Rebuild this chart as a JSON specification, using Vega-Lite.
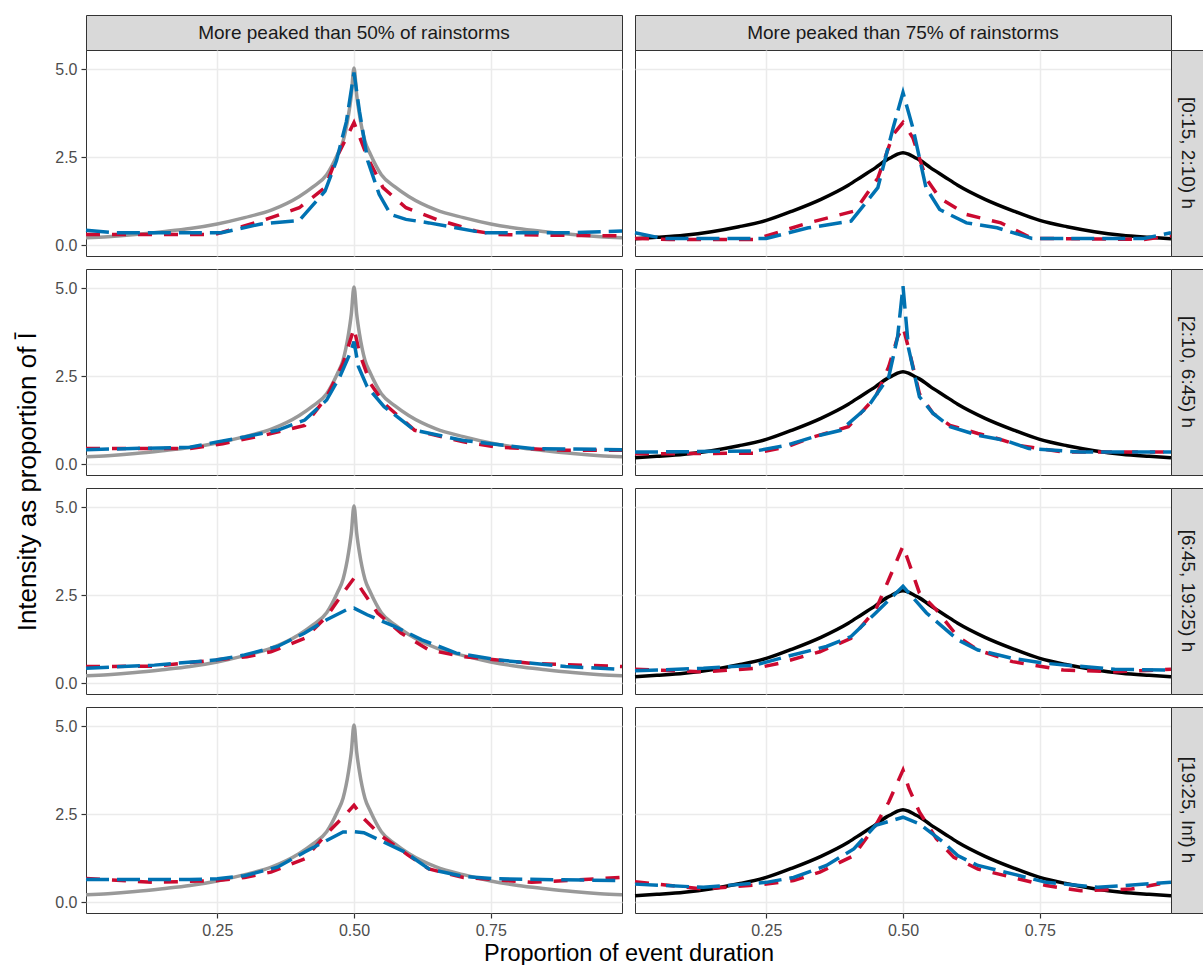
{
"$schema":"https://vega.github.io/schema/vega-lite/v6.json",
"autosize":{"type":"pad"},
"padding":{"left":14,"top":14,"right":0,"bottom":2},
"background":"white",
"config":{
 "font":"Liberation Sans",
 "view":{"stroke":"#333333","strokeWidth":1},
 "axis":{"domain":false,"gridColor":"#EBEBEB","gridWidth":1.5,"tickColor":"#333333","tickSize":5,"tickWidth":1.2,"labelColor":"#4D4D4D","labelFontSize":16,"labelPadding":4,"titleFontSize":23.5,"titleFontWeight":"normal","titleColor":"#000000","titlePadding":3}
},
"datasets":{
 "gray":[
  {"x":0.01,"y":0.21},{"x":0.05,"y":0.24},{"x":0.1,"y":0.3},{"x":0.15,"y":0.38},{"x":0.2,"y":0.47},{"x":0.25,"y":0.6},{"x":0.3,"y":0.78},{"x":0.35,"y":1.0},{"x":0.4,"y":1.38},{"x":0.425,"y":1.65},{"x":0.45,"y":2.0},{"x":0.47,"y":2.58},{"x":0.48,"y":2.95},{"x":0.49,"y":3.7},{"x":0.495,"y":4.25},{"x":0.5,"y":5.03},{"x":0.505,"y":4.25},{"x":0.51,"y":3.7},{"x":0.52,"y":2.95},{"x":0.53,"y":2.58},{"x":0.55,"y":2.0},{"x":0.575,"y":1.65},{"x":0.6,"y":1.38},{"x":0.65,"y":1.0},{"x":0.7,"y":0.78},{"x":0.75,"y":0.6},{"x":0.8,"y":0.47},{"x":0.85,"y":0.38},{"x":0.9,"y":0.3},{"x":0.95,"y":0.24},{"x":0.99,"y":0.21}
 ],
 "black":[
  {"x":0.01,"y":0.18},{"x":0.05,"y":0.22},{"x":0.1,"y":0.28},{"x":0.15,"y":0.38},{"x":0.2,"y":0.52},{"x":0.25,"y":0.7},{"x":0.3,"y":0.98},{"x":0.35,"y":1.3},{"x":0.4,"y":1.7},{"x":0.425,"y":1.95},{"x":0.45,"y":2.2},{"x":0.47,"y":2.42},{"x":0.48,"y":2.5},{"x":0.49,"y":2.58},{"x":0.5,"y":2.62},{"x":0.51,"y":2.58},{"x":0.52,"y":2.5},{"x":0.53,"y":2.42},{"x":0.55,"y":2.2},{"x":0.575,"y":1.95},{"x":0.6,"y":1.7},{"x":0.65,"y":1.3},{"x":0.7,"y":0.98},{"x":0.75,"y":0.7},{"x":0.8,"y":0.52},{"x":0.85,"y":0.38},{"x":0.9,"y":0.28},{"x":0.95,"y":0.22},{"x":0.99,"y":0.18}
 ],
 "obs":[
  {"c":"50","r":1,"s":"b","x":0.01,"y":0.42},{"c":"50","r":1,"s":"b","x":0.06,"y":0.35},{"c":"50","r":1,"s":"b","x":0.258,"y":0.35},{"c":"50","r":1,"s":"b","x":0.33,"y":0.6},{"c":"50","r":1,"s":"b","x":0.4,"y":0.7},{"c":"50","r":1,"s":"b","x":0.447,"y":1.53},{"c":"50","r":1,"s":"b","x":0.468,"y":2.4},{"c":"50","r":1,"s":"b","x":0.486,"y":3.5},{"c":"50","r":1,"s":"b","x":0.5,"y":4.9},{"c":"50","r":1,"s":"b","x":0.51,"y":3.8},{"c":"50","r":1,"s":"b","x":0.525,"y":2.4},{"c":"50","r":1,"s":"b","x":0.546,"y":1.44},{"c":"50","r":1,"s":"b","x":0.567,"y":0.87},{"c":"50","r":1,"s":"b","x":0.595,"y":0.73},{"c":"50","r":1,"s":"b","x":0.637,"y":0.63},{"c":"50","r":1,"s":"b","x":0.736,"y":0.35},{"c":"50","r":1,"s":"b","x":0.9,"y":0.35},{"c":"50","r":1,"s":"b","x":0.99,"y":0.4},
  {"c":"50","r":1,"s":"r","x":0.01,"y":0.3},{"c":"50","r":1,"s":"r","x":0.245,"y":0.3},{"c":"50","r":1,"s":"r","x":0.33,"y":0.68},{"c":"50","r":1,"s":"r","x":0.4,"y":1.06},{"c":"50","r":1,"s":"r","x":0.447,"y":1.63},{"c":"50","r":1,"s":"r","x":0.468,"y":2.48},{"c":"50","r":1,"s":"r","x":0.5,"y":3.48},{"c":"50","r":1,"s":"r","x":0.525,"y":2.48},{"c":"50","r":1,"s":"r","x":0.553,"y":1.63},{"c":"50","r":1,"s":"r","x":0.595,"y":1.06},{"c":"50","r":1,"s":"r","x":0.651,"y":0.73},{"c":"50","r":1,"s":"r","x":0.722,"y":0.4},{"c":"50","r":1,"s":"r","x":0.76,"y":0.3},{"c":"50","r":1,"s":"r","x":0.99,"y":0.26},
  {"c":"75","r":1,"s":"b","x":0.01,"y":0.35},{"c":"75","r":1,"s":"b","x":0.06,"y":0.19},{"c":"75","r":1,"s":"b","x":0.25,"y":0.19},{"c":"75","r":1,"s":"b","x":0.327,"y":0.49},{"c":"75","r":1,"s":"b","x":0.405,"y":0.68},{"c":"75","r":1,"s":"b","x":0.454,"y":1.63},{"c":"75","r":1,"s":"b","x":0.482,"y":3.33},{"c":"75","r":1,"s":"b","x":0.5,"y":4.33},{"c":"75","r":1,"s":"b","x":0.518,"y":3.33},{"c":"75","r":1,"s":"b","x":0.542,"y":1.63},{"c":"75","r":1,"s":"b","x":0.567,"y":1.01},{"c":"75","r":1,"s":"b","x":0.616,"y":0.63},{"c":"75","r":1,"s":"b","x":0.672,"y":0.49},{"c":"75","r":1,"s":"b","x":0.736,"y":0.19},{"c":"75","r":1,"s":"b","x":0.94,"y":0.19},{"c":"75","r":1,"s":"b","x":0.99,"y":0.35},
  {"c":"75","r":1,"s":"r","x":0.01,"y":0.19},{"c":"75","r":1,"s":"r","x":0.074,"y":0.16},{"c":"75","r":1,"s":"r","x":0.229,"y":0.16},{"c":"75","r":1,"s":"r","x":0.327,"y":0.63},{"c":"75","r":1,"s":"r","x":0.412,"y":0.97},{"c":"75","r":1,"s":"r","x":0.454,"y":1.9},{"c":"75","r":1,"s":"r","x":0.482,"y":3.14},{"c":"75","r":1,"s":"r","x":0.5,"y":3.48},{"c":"75","r":1,"s":"r","x":0.518,"y":3.05},{"c":"75","r":1,"s":"r","x":0.542,"y":1.9},{"c":"75","r":1,"s":"r","x":0.567,"y":1.34},{"c":"75","r":1,"s":"r","x":0.616,"y":0.87},{"c":"75","r":1,"s":"r","x":0.679,"y":0.63},{"c":"75","r":1,"s":"r","x":0.736,"y":0.19},{"c":"75","r":1,"s":"r","x":0.94,"y":0.16},{"c":"75","r":1,"s":"r","x":0.99,"y":0.26},
  {"c":"50","r":2,"s":"b","x":0.01,"y":0.41},{"c":"50","r":2,"s":"b","x":0.2,"y":0.48},{"c":"50","r":2,"s":"b","x":0.25,"y":0.63},{"c":"50","r":2,"s":"b","x":0.3,"y":0.77},{"c":"50","r":2,"s":"b","x":0.36,"y":0.96},{"c":"50","r":2,"s":"b","x":0.41,"y":1.25},{"c":"50","r":2,"s":"b","x":0.45,"y":1.82},{"c":"50","r":2,"s":"b","x":0.474,"y":2.48},{"c":"50","r":2,"s":"b","x":0.493,"y":3.15},{"c":"50","r":2,"s":"b","x":0.5,"y":3.48},{"c":"50","r":2,"s":"b","x":0.508,"y":2.77},{"c":"50","r":2,"s":"b","x":0.524,"y":2.2},{"c":"50","r":2,"s":"b","x":0.555,"y":1.63},{"c":"50","r":2,"s":"b","x":0.611,"y":0.96},{"c":"50","r":2,"s":"b","x":0.7,"y":0.67},{"c":"50","r":2,"s":"b","x":0.825,"y":0.44},{"c":"50","r":2,"s":"b","x":0.99,"y":0.41},
  {"c":"50","r":2,"s":"r","x":0.01,"y":0.44},{"c":"50","r":2,"s":"r","x":0.2,"y":0.44},{"c":"50","r":2,"s":"r","x":0.26,"y":0.58},{"c":"50","r":2,"s":"r","x":0.336,"y":0.82},{"c":"50","r":2,"s":"r","x":0.41,"y":1.1},{"c":"50","r":2,"s":"r","x":0.45,"y":1.91},{"c":"50","r":2,"s":"r","x":0.48,"y":2.86},{"c":"50","r":2,"s":"r","x":0.5,"y":3.86},{"c":"50","r":2,"s":"r","x":0.51,"y":3.15},{"c":"50","r":2,"s":"r","x":0.53,"y":2.29},{"c":"50","r":2,"s":"r","x":0.555,"y":1.72},{"c":"50","r":2,"s":"r","x":0.611,"y":0.96},{"c":"50","r":2,"s":"r","x":0.7,"y":0.63},{"c":"50","r":2,"s":"r","x":0.762,"y":0.48},{"c":"50","r":2,"s":"r","x":0.887,"y":0.39},{"c":"50","r":2,"s":"r","x":0.99,"y":0.39},
  {"c":"75","r":2,"s":"b","x":0.01,"y":0.34},{"c":"75","r":2,"s":"b","x":0.23,"y":0.37},{"c":"75","r":2,"s":"b","x":0.286,"y":0.53},{"c":"75","r":2,"s":"b","x":0.336,"y":0.77},{"c":"75","r":2,"s":"b","x":0.386,"y":0.96},{"c":"75","r":2,"s":"b","x":0.436,"y":1.63},{"c":"75","r":2,"s":"b","x":0.474,"y":2.48},{"c":"75","r":2,"s":"b","x":0.49,"y":3.6},{"c":"75","r":2,"s":"b","x":0.5,"y":5.05},{"c":"75","r":2,"s":"b","x":0.51,"y":3.3},{"c":"75","r":2,"s":"b","x":0.53,"y":1.91},{"c":"75","r":2,"s":"b","x":0.555,"y":1.44},{"c":"75","r":2,"s":"b","x":0.586,"y":1.06},{"c":"75","r":2,"s":"b","x":0.637,"y":0.82},{"c":"75","r":2,"s":"b","x":0.687,"y":0.67},{"c":"75","r":2,"s":"b","x":0.73,"y":0.44},{"c":"75","r":2,"s":"b","x":0.825,"y":0.34},{"c":"75","r":2,"s":"b","x":0.99,"y":0.34},
  {"c":"75","r":2,"s":"r","x":0.01,"y":0.29},{"c":"75","r":2,"s":"r","x":0.23,"y":0.31},{"c":"75","r":2,"s":"r","x":0.286,"y":0.48},{"c":"75","r":2,"s":"r","x":0.336,"y":0.77},{"c":"75","r":2,"s":"r","x":0.4,"y":1.06},{"c":"75","r":2,"s":"r","x":0.45,"y":1.91},{"c":"75","r":2,"s":"r","x":0.474,"y":2.77},{"c":"75","r":2,"s":"r","x":0.49,"y":3.6},{"c":"75","r":2,"s":"r","x":0.5,"y":3.9},{"c":"75","r":2,"s":"r","x":0.511,"y":3.24},{"c":"75","r":2,"s":"r","x":0.53,"y":2.0},{"c":"75","r":2,"s":"r","x":0.555,"y":1.44},{"c":"75","r":2,"s":"r","x":0.586,"y":1.1},{"c":"75","r":2,"s":"r","x":0.637,"y":0.87},{"c":"75","r":2,"s":"r","x":0.674,"y":0.72},{"c":"75","r":2,"s":"r","x":0.712,"y":0.53},{"c":"75","r":2,"s":"r","x":0.793,"y":0.34},{"c":"75","r":2,"s":"r","x":0.99,"y":0.34},
  {"c":"50","r":3,"s":"b","x":0.01,"y":0.42},{"c":"50","r":3,"s":"b","x":0.135,"y":0.51},{"c":"50","r":3,"s":"b","x":0.25,"y":0.66},{"c":"50","r":3,"s":"b","x":0.3,"y":0.8},{"c":"50","r":3,"s":"b","x":0.36,"y":1.04},{"c":"50","r":3,"s":"b","x":0.41,"y":1.42},{"c":"50","r":3,"s":"b","x":0.45,"y":1.8},{"c":"50","r":3,"s":"b","x":0.486,"y":2.08},{"c":"50","r":3,"s":"b","x":0.5,"y":2.13},{"c":"50","r":3,"s":"b","x":0.524,"y":1.94},{"c":"50","r":3,"s":"b","x":0.574,"y":1.61},{"c":"50","r":3,"s":"b","x":0.624,"y":1.23},{"c":"50","r":3,"s":"b","x":0.687,"y":0.85},{"c":"50","r":3,"s":"b","x":0.762,"y":0.66},{"c":"50","r":3,"s":"b","x":0.887,"y":0.47},{"c":"50","r":3,"s":"b","x":0.99,"y":0.39},
  {"c":"50","r":3,"s":"r","x":0.01,"y":0.47},{"c":"50","r":3,"s":"r","x":0.135,"y":0.48},{"c":"50","r":3,"s":"r","x":0.25,"y":0.66},{"c":"50","r":3,"s":"r","x":0.304,"y":0.75},{"c":"50","r":3,"s":"r","x":0.348,"y":0.89},{"c":"50","r":3,"s":"r","x":0.41,"y":1.27},{"c":"50","r":3,"s":"r","x":0.45,"y":1.89},{"c":"50","r":3,"s":"r","x":0.48,"y":2.56},{"c":"50","r":3,"s":"r","x":0.5,"y":2.98},{"c":"50","r":3,"s":"r","x":0.518,"y":2.56},{"c":"50","r":3,"s":"r","x":0.543,"y":1.99},{"c":"50","r":3,"s":"r","x":0.586,"y":1.42},{"c":"50","r":3,"s":"r","x":0.637,"y":0.94},{"c":"50","r":3,"s":"r","x":0.7,"y":0.75},{"c":"50","r":3,"s":"r","x":0.825,"y":0.56},{"c":"50","r":3,"s":"r","x":0.99,"y":0.47},
  {"c":"75","r":3,"s":"b","x":0.01,"y":0.35},{"c":"75","r":3,"s":"b","x":0.135,"y":0.42},{"c":"75","r":3,"s":"b","x":0.23,"y":0.51},{"c":"75","r":3,"s":"b","x":0.286,"y":0.75},{"c":"75","r":3,"s":"b","x":0.36,"y":1.04},{"c":"75","r":3,"s":"b","x":0.405,"y":1.32},{"c":"75","r":3,"s":"b","x":0.45,"y":1.99},{"c":"75","r":3,"s":"b","x":0.5,"y":2.75},{"c":"75","r":3,"s":"b","x":0.543,"y":1.99},{"c":"75","r":3,"s":"b","x":0.6,"y":1.23},{"c":"75","r":3,"s":"b","x":0.637,"y":0.94},{"c":"75","r":3,"s":"b","x":0.7,"y":0.7},{"c":"75","r":3,"s":"b","x":0.762,"y":0.56},{"c":"75","r":3,"s":"b","x":0.887,"y":0.39},{"c":"75","r":3,"s":"b","x":0.99,"y":0.37},
  {"c":"75","r":3,"s":"r","x":0.01,"y":0.39},{"c":"75","r":3,"s":"r","x":0.135,"y":0.32},{"c":"75","r":3,"s":"r","x":0.23,"y":0.42},{"c":"75","r":3,"s":"r","x":0.273,"y":0.56},{"c":"75","r":3,"s":"r","x":0.348,"y":0.89},{"c":"75","r":3,"s":"r","x":0.405,"y":1.27},{"c":"75","r":3,"s":"r","x":0.45,"y":2.08},{"c":"75","r":3,"s":"r","x":0.474,"y":2.94},{"c":"75","r":3,"s":"r","x":0.5,"y":3.89},{"c":"75","r":3,"s":"r","x":0.511,"y":3.41},{"c":"75","r":3,"s":"r","x":0.53,"y":2.56},{"c":"75","r":3,"s":"r","x":0.561,"y":2.08},{"c":"75","r":3,"s":"r","x":0.6,"y":1.32},{"c":"75","r":3,"s":"r","x":0.637,"y":0.94},{"c":"75","r":3,"s":"r","x":0.7,"y":0.61},{"c":"75","r":3,"s":"r","x":0.793,"y":0.37},{"c":"75","r":3,"s":"r","x":0.887,"y":0.32},{"c":"75","r":3,"s":"r","x":0.99,"y":0.39},
  {"c":"50","r":4,"s":"b","x":0.01,"y":0.64},{"c":"50","r":4,"s":"b","x":0.2,"y":0.64},{"c":"50","r":4,"s":"b","x":0.25,"y":0.66},{"c":"50","r":4,"s":"b","x":0.3,"y":0.75},{"c":"50","r":4,"s":"b","x":0.36,"y":0.99},{"c":"50","r":4,"s":"b","x":0.41,"y":1.42},{"c":"50","r":4,"s":"b","x":0.45,"y":1.75},{"c":"50","r":4,"s":"b","x":0.48,"y":1.99},{"c":"50","r":4,"s":"b","x":0.5,"y":2.0},{"c":"50","r":4,"s":"b","x":0.518,"y":1.97},{"c":"50","r":4,"s":"b","x":0.555,"y":1.7},{"c":"50","r":4,"s":"b","x":0.593,"y":1.42},{"c":"50","r":4,"s":"b","x":0.637,"y":0.94},{"c":"50","r":4,"s":"b","x":0.7,"y":0.73},{"c":"50","r":4,"s":"b","x":0.762,"y":0.66},{"c":"50","r":4,"s":"b","x":0.99,"y":0.61},
  {"c":"50","r":4,"s":"r","x":0.01,"y":0.67},{"c":"50","r":4,"s":"r","x":0.135,"y":0.56},{"c":"50","r":4,"s":"r","x":0.25,"y":0.61},{"c":"50","r":4,"s":"r","x":0.3,"y":0.7},{"c":"50","r":4,"s":"r","x":0.348,"y":0.85},{"c":"50","r":4,"s":"r","x":0.41,"y":1.23},{"c":"50","r":4,"s":"r","x":0.45,"y":1.94},{"c":"50","r":4,"s":"r","x":0.48,"y":2.41},{"c":"50","r":4,"s":"r","x":0.5,"y":2.75},{"c":"50","r":4,"s":"r","x":0.518,"y":2.37},{"c":"50","r":4,"s":"r","x":0.549,"y":1.89},{"c":"50","r":4,"s":"r","x":0.6,"y":1.32},{"c":"50","r":4,"s":"r","x":0.637,"y":0.94},{"c":"50","r":4,"s":"r","x":0.7,"y":0.7},{"c":"50","r":4,"s":"r","x":0.825,"y":0.56},{"c":"50","r":4,"s":"r","x":0.99,"y":0.7},
  {"c":"75","r":4,"s":"b","x":0.01,"y":0.51},{"c":"75","r":4,"s":"b","x":0.135,"y":0.42},{"c":"75","r":4,"s":"b","x":0.25,"y":0.56},{"c":"75","r":4,"s":"b","x":0.3,"y":0.7},{"c":"75","r":4,"s":"b","x":0.36,"y":1.04},{"c":"75","r":4,"s":"b","x":0.41,"y":1.51},{"c":"75","r":4,"s":"b","x":0.45,"y":2.18},{"c":"75","r":4,"s":"b","x":0.5,"y":2.41},{"c":"75","r":4,"s":"b","x":0.53,"y":2.22},{"c":"75","r":4,"s":"b","x":0.574,"y":1.7},{"c":"75","r":4,"s":"b","x":0.6,"y":1.32},{"c":"75","r":4,"s":"b","x":0.637,"y":1.04},{"c":"75","r":4,"s":"b","x":0.7,"y":0.8},{"c":"75","r":4,"s":"b","x":0.762,"y":0.56},{"c":"75","r":4,"s":"b","x":0.856,"y":0.42},{"c":"75","r":4,"s":"b","x":0.99,"y":0.56},
  {"c":"75","r":4,"s":"r","x":0.01,"y":0.58},{"c":"75","r":4,"s":"r","x":0.135,"y":0.37},{"c":"75","r":4,"s":"r","x":0.25,"y":0.51},{"c":"75","r":4,"s":"r","x":0.3,"y":0.61},{"c":"75","r":4,"s":"r","x":0.348,"y":0.85},{"c":"75","r":4,"s":"r","x":0.41,"y":1.32},{"c":"75","r":4,"s":"r","x":0.45,"y":2.18},{"c":"75","r":4,"s":"r","x":0.474,"y":2.84},{"c":"75","r":4,"s":"r","x":0.5,"y":3.75},{"c":"75","r":4,"s":"r","x":0.511,"y":3.22},{"c":"75","r":4,"s":"r","x":0.53,"y":2.56},{"c":"75","r":4,"s":"r","x":0.561,"y":1.8},{"c":"75","r":4,"s":"r","x":0.593,"y":1.27},{"c":"75","r":4,"s":"r","x":0.637,"y":0.94},{"c":"75","r":4,"s":"r","x":0.7,"y":0.7},{"c":"75","r":4,"s":"r","x":0.762,"y":0.47},{"c":"75","r":4,"s":"r","x":0.825,"y":0.32},{"c":"75","r":4,"s":"r","x":0.918,"y":0.37},{"c":"75","r":4,"s":"r","x":0.99,"y":0.58}
 ]
},
"columns":4,
"bounds":"flush",
"align":"each",
"spacing":0,
"concat":[
 {"width":536,"height":35,"view":{"fill":"#D9D9D9","stroke":"#333333"},"data":{"values":[{"t":"More peaked than 50% of rainstorms"}]},"mark":{"type":"text","fontSize":19,"color":"#1A1A1A"},"encoding":{"text":{"field":"t"}}},
 {"width":13,"height":1,"view":{"stroke":null},"data":{"values":[]},"mark":"point","encoding":{}},
 {"width":536,"height":35,"view":{"fill":"#D9D9D9","stroke":"#333333"},"data":{"values":[{"t":"More peaked than 75% of rainstorms"}]},"mark":{"type":"text","fontSize":19,"color":"#1A1A1A"},"encoding":{"text":{"field":"t"}}},
 {"width":1,"height":1,"view":{"stroke":null},"data":{"values":[]},"mark":"point","encoding":{}},

 {"width":536,"height":206,
  "encoding":{"x":{"field":"x","type":"quantitative","scale":{"domain":[0.01,0.99],"nice":false,"zero":false},"axis":{"values":[0.25,0.5,0.75],"labels":false,"ticks":false,"title":null}},
              "y":{"field":"y","type":"quantitative","scale":{"domain":[-0.31,5.54],"nice":false,"zero":false},"axis":{"values":[0,2.5,5],"format":".1f","title":null}}},
  "layer":[
   {"data":{"name":"gray"},"mark":{"type":"line","color":"#999999","strokeWidth":3.5,"interpolate":"monotone"}},
   {"data":{"name":"obs"},"transform":[{"filter":"datum.c=='50' && datum.r==1 && datum.s=='r'"}],"mark":{"type":"line","color":"#CB0A30","strokeWidth":3.5,"strokeDash":[14,12]}},
   {"data":{"name":"obs"},"transform":[{"filter":"datum.c=='50' && datum.r==1 && datum.s=='b'"}],"mark":{"type":"line","color":"#0072B2","strokeWidth":3.5,"strokeDash":[23,8]}}
  ]},
 {"width":13,"height":1,"view":{"stroke":null},"data":{"values":[]},"mark":"point","encoding":{}},
 {"width":536,"height":206,
  "encoding":{"x":{"field":"x","type":"quantitative","scale":{"domain":[0.01,0.99],"nice":false,"zero":false},"axis":{"values":[0.25,0.5,0.75],"labels":false,"ticks":false,"title":null}},
              "y":{"field":"y","type":"quantitative","scale":{"domain":[-0.31,5.54],"nice":false,"zero":false},"axis":{"values":[0,2.5,5],"labels":false,"ticks":false,"title":null}}},
  "layer":[
   {"data":{"name":"black"},"mark":{"type":"line","color":"#000000","strokeWidth":3.5,"interpolate":"monotone"}},
   {"data":{"name":"obs"},"transform":[{"filter":"datum.c=='75' && datum.r==1 && datum.s=='r'"}],"mark":{"type":"line","color":"#CB0A30","strokeWidth":3.5,"strokeDash":[14,12]}},
   {"data":{"name":"obs"},"transform":[{"filter":"datum.c=='75' && datum.r==1 && datum.s=='b'"}],"mark":{"type":"line","color":"#0072B2","strokeWidth":3.5,"strokeDash":[23,8]}}
  ]},
 {"width":33,"height":206,"view":{"fill":"#D9D9D9","stroke":"#333333"},"data":{"values":[{"t":"[0:15, 2:10) h"}]},"mark":{"type":"text","fontSize":19,"color":"#1A1A1A","angle":90},"encoding":{"text":{"field":"t"}}},

 {"width":1,"height":12.5,"view":{"stroke":null},"data":{"values":[]},"mark":"point","encoding":{}},
 {"width":1,"height":1,"view":{"stroke":null},"data":{"values":[]},"mark":"point","encoding":{}},
 {"width":1,"height":1,"view":{"stroke":null},"data":{"values":[]},"mark":"point","encoding":{}},
 {"width":1,"height":1,"view":{"stroke":null},"data":{"values":[]},"mark":"point","encoding":{}},

 {"width":536,"height":206,
  "encoding":{"x":{"field":"x","type":"quantitative","scale":{"domain":[0.01,0.99],"nice":false,"zero":false},"axis":{"values":[0.25,0.5,0.75],"labels":false,"ticks":false,"title":null}},
              "y":{"field":"y","type":"quantitative","scale":{"domain":[-0.31,5.54],"nice":false,"zero":false},"axis":{"values":[0,2.5,5],"format":".1f","title":"Intensity as proportion of Ī","titleY":212.25,"titleFontSize":26,"titlePadding":14}}},
  "layer":[
   {"data":{"name":"gray"},"mark":{"type":"line","color":"#999999","strokeWidth":3.5,"interpolate":"monotone"}},
   {"data":{"name":"obs"},"transform":[{"filter":"datum.c=='50' && datum.r==2 && datum.s=='r'"}],"mark":{"type":"line","color":"#CB0A30","strokeWidth":3.5,"strokeDash":[14,12]}},
   {"data":{"name":"obs"},"transform":[{"filter":"datum.c=='50' && datum.r==2 && datum.s=='b'"}],"mark":{"type":"line","color":"#0072B2","strokeWidth":3.5,"strokeDash":[23,8]}}
  ]},
 {"width":13,"height":1,"view":{"stroke":null},"data":{"values":[]},"mark":"point","encoding":{}},
 {"width":536,"height":206,
  "encoding":{"x":{"field":"x","type":"quantitative","scale":{"domain":[0.01,0.99],"nice":false,"zero":false},"axis":{"values":[0.25,0.5,0.75],"labels":false,"ticks":false,"title":null}},
              "y":{"field":"y","type":"quantitative","scale":{"domain":[-0.31,5.54],"nice":false,"zero":false},"axis":{"values":[0,2.5,5],"labels":false,"ticks":false,"title":null}}},
  "layer":[
   {"data":{"name":"black"},"mark":{"type":"line","color":"#000000","strokeWidth":3.5,"interpolate":"monotone"}},
   {"data":{"name":"obs"},"transform":[{"filter":"datum.c=='75' && datum.r==2 && datum.s=='r'"}],"mark":{"type":"line","color":"#CB0A30","strokeWidth":3.5,"strokeDash":[14,12]}},
   {"data":{"name":"obs"},"transform":[{"filter":"datum.c=='75' && datum.r==2 && datum.s=='b'"}],"mark":{"type":"line","color":"#0072B2","strokeWidth":3.5,"strokeDash":[23,8]}}
  ]},
 {"width":33,"height":206,"view":{"fill":"#D9D9D9","stroke":"#333333"},"data":{"values":[{"t":"[2:10, 6:45) h"}]},"mark":{"type":"text","fontSize":19,"color":"#1A1A1A","angle":90},"encoding":{"text":{"field":"t"}}},

 {"width":1,"height":12.5,"view":{"stroke":null},"data":{"values":[]},"mark":"point","encoding":{}},
 {"width":1,"height":1,"view":{"stroke":null},"data":{"values":[]},"mark":"point","encoding":{}},
 {"width":1,"height":1,"view":{"stroke":null},"data":{"values":[]},"mark":"point","encoding":{}},
 {"width":1,"height":1,"view":{"stroke":null},"data":{"values":[]},"mark":"point","encoding":{}},

 {"width":536,"height":206,
  "encoding":{"x":{"field":"x","type":"quantitative","scale":{"domain":[0.01,0.99],"nice":false,"zero":false},"axis":{"values":[0.25,0.5,0.75],"labels":false,"ticks":false,"title":null}},
              "y":{"field":"y","type":"quantitative","scale":{"domain":[-0.31,5.54],"nice":false,"zero":false},"axis":{"values":[0,2.5,5],"format":".1f","title":null}}},
  "layer":[
   {"data":{"name":"gray"},"mark":{"type":"line","color":"#999999","strokeWidth":3.5,"interpolate":"monotone"}},
   {"data":{"name":"obs"},"transform":[{"filter":"datum.c=='50' && datum.r==3 && datum.s=='r'"}],"mark":{"type":"line","color":"#CB0A30","strokeWidth":3.5,"strokeDash":[14,12]}},
   {"data":{"name":"obs"},"transform":[{"filter":"datum.c=='50' && datum.r==3 && datum.s=='b'"}],"mark":{"type":"line","color":"#0072B2","strokeWidth":3.5,"strokeDash":[23,8]}}
  ]},
 {"width":13,"height":1,"view":{"stroke":null},"data":{"values":[]},"mark":"point","encoding":{}},
 {"width":536,"height":206,
  "encoding":{"x":{"field":"x","type":"quantitative","scale":{"domain":[0.01,0.99],"nice":false,"zero":false},"axis":{"values":[0.25,0.5,0.75],"labels":false,"ticks":false,"title":null}},
              "y":{"field":"y","type":"quantitative","scale":{"domain":[-0.31,5.54],"nice":false,"zero":false},"axis":{"values":[0,2.5,5],"labels":false,"ticks":false,"title":null}}},
  "layer":[
   {"data":{"name":"black"},"mark":{"type":"line","color":"#000000","strokeWidth":3.5,"interpolate":"monotone"}},
   {"data":{"name":"obs"},"transform":[{"filter":"datum.c=='75' && datum.r==3 && datum.s=='r'"}],"mark":{"type":"line","color":"#CB0A30","strokeWidth":3.5,"strokeDash":[14,12]}},
   {"data":{"name":"obs"},"transform":[{"filter":"datum.c=='75' && datum.r==3 && datum.s=='b'"}],"mark":{"type":"line","color":"#0072B2","strokeWidth":3.5,"strokeDash":[23,8]}}
  ]},
 {"width":33,"height":206,"view":{"fill":"#D9D9D9","stroke":"#333333"},"data":{"values":[{"t":"[6:45, 19:25) h"}]},"mark":{"type":"text","fontSize":19,"color":"#1A1A1A","angle":90},"encoding":{"text":{"field":"t"}}},

 {"width":1,"height":12.5,"view":{"stroke":null},"data":{"values":[]},"mark":"point","encoding":{}},
 {"width":1,"height":1,"view":{"stroke":null},"data":{"values":[]},"mark":"point","encoding":{}},
 {"width":1,"height":1,"view":{"stroke":null},"data":{"values":[]},"mark":"point","encoding":{}},
 {"width":1,"height":1,"view":{"stroke":null},"data":{"values":[]},"mark":"point","encoding":{}},

 {"width":536,"height":206,
  "encoding":{"x":{"field":"x","type":"quantitative","scale":{"domain":[0.01,0.99],"nice":false,"zero":false},"axis":{"values":[0.25,0.5,0.75],"format":".2f","title":"Proportion of event duration","titleX":542.5}},
              "y":{"field":"y","type":"quantitative","scale":{"domain":[-0.31,5.54],"nice":false,"zero":false},"axis":{"values":[0,2.5,5],"format":".1f","title":null}}},
  "layer":[
   {"data":{"name":"gray"},"mark":{"type":"line","color":"#999999","strokeWidth":3.5,"interpolate":"monotone"}},
   {"data":{"name":"obs"},"transform":[{"filter":"datum.c=='50' && datum.r==4 && datum.s=='r'"}],"mark":{"type":"line","color":"#CB0A30","strokeWidth":3.5,"strokeDash":[14,12]}},
   {"data":{"name":"obs"},"transform":[{"filter":"datum.c=='50' && datum.r==4 && datum.s=='b'"}],"mark":{"type":"line","color":"#0072B2","strokeWidth":3.5,"strokeDash":[23,8]}}
  ]},
 {"width":13,"height":1,"view":{"stroke":null},"data":{"values":[]},"mark":"point","encoding":{}},
 {"width":536,"height":206,
  "encoding":{"x":{"field":"x","type":"quantitative","scale":{"domain":[0.01,0.99],"nice":false,"zero":false},"axis":{"values":[0.25,0.5,0.75],"format":".2f","title":null}},
              "y":{"field":"y","type":"quantitative","scale":{"domain":[-0.31,5.54],"nice":false,"zero":false},"axis":{"values":[0,2.5,5],"labels":false,"ticks":false,"title":null}}},
  "layer":[
   {"data":{"name":"black"},"mark":{"type":"line","color":"#000000","strokeWidth":3.5,"interpolate":"monotone"}},
   {"data":{"name":"obs"},"transform":[{"filter":"datum.c=='75' && datum.r==4 && datum.s=='r'"}],"mark":{"type":"line","color":"#CB0A30","strokeWidth":3.5,"strokeDash":[14,12]}},
   {"data":{"name":"obs"},"transform":[{"filter":"datum.c=='75' && datum.r==4 && datum.s=='b'"}],"mark":{"type":"line","color":"#0072B2","strokeWidth":3.5,"strokeDash":[23,8]}}
  ]},
 {"width":33,"height":206,"view":{"fill":"#D9D9D9","stroke":"#333333"},"data":{"values":[{"t":"[19:25, Inf) h"}]},"mark":{"type":"text","fontSize":19,"color":"#1A1A1A","angle":90},"encoding":{"text":{"field":"t"}}}
]
}
